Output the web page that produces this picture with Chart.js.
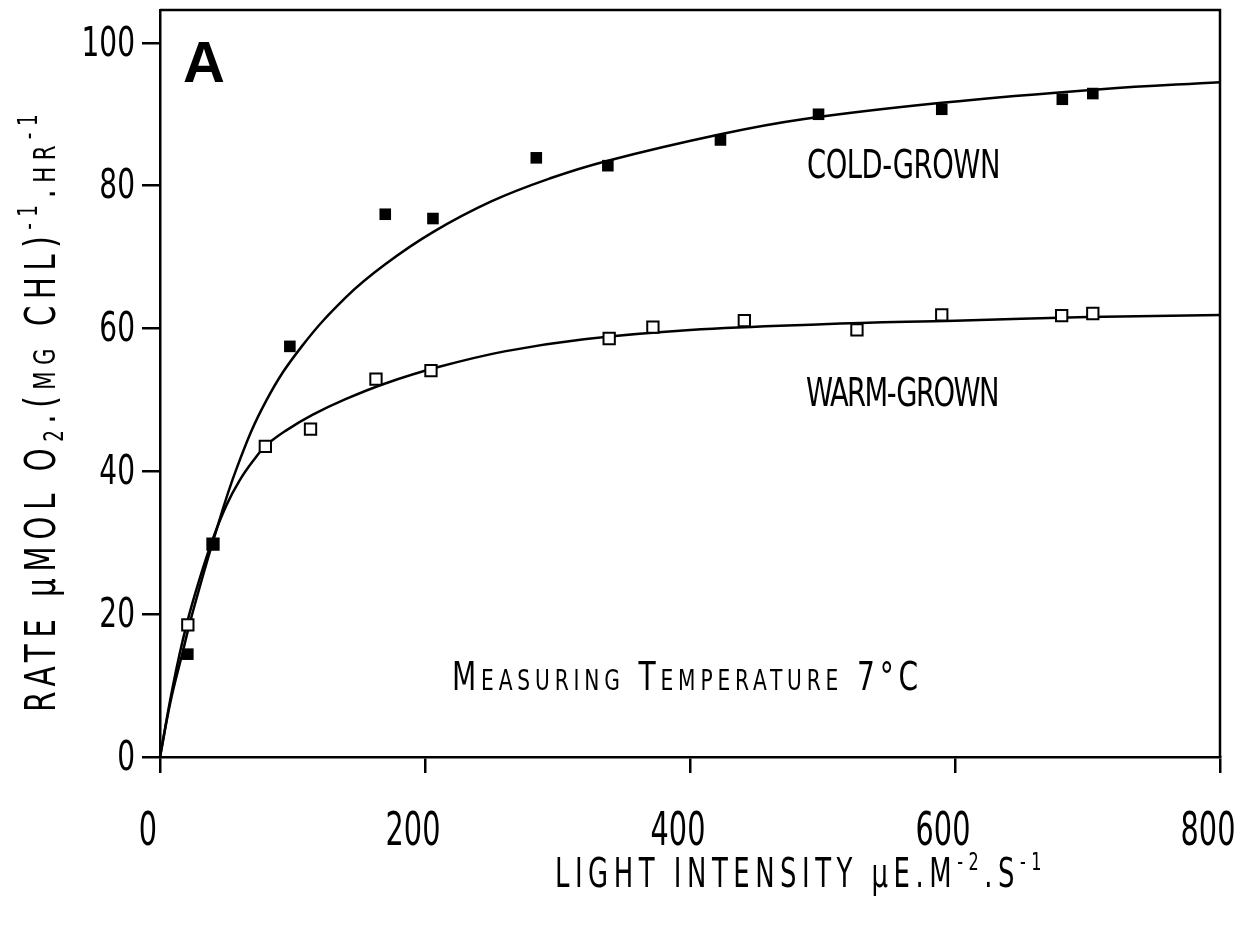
<!DOCTYPE html>
<html><head><meta charset="utf-8">
<script src="https://cdn.jsdelivr.net/npm/chart.js@4.4.1/dist/chart.umd.min.js"></script>
<style>html,body{margin:0;padding:0;background:#fff}canvas{display:block}</style>
</head><body><canvas id="c" width="1252" height="930"></canvas>
<script>
// ---- data ----
const xTicks = [0, 200, 400, 600, 800];
const yTicks = [0, 20, 40, 60, 80, 100];

const coldLight = [21, 40, 98, 170, 206, 284, 338, 423, 497, 590, 681, 704];
const coldRate  = [14.4, 29.8, 57.5, 76.0, 75.4, 83.9, 82.8, 86.4, 90.0, 90.7, 92.1, 92.9];

const warmLight = [21, 40, 79.5, 113.6, 163, 204.5, 339, 372, 441, 526, 590, 680.5, 704];
const warmRate  = [18.5, 29.8, 43.5, 45.9, 52.9, 54.1, 58.6, 60.2, 61.1, 59.8, 61.9, 61.8, 62.1];

// fitted curves
const coldCurveX = [0, 8, 17, 24, 40, 58.4, 80.5, 107, 141, 170, 206, 250, 294, 338, 423, 485, 590, 710, 800];
const coldCurveY = [0, 7.8, 14.6, 19.8, 30.2, 40.7, 50.0, 57.5, 64.5, 69.0, 73.5, 77.8, 81.0, 83.5, 87.2, 89.3, 91.6, 93.5, 94.5];
const warmCurveX = [0, 10, 20, 30, 40, 50, 60, 70, 80, 95, 115, 140, 170, 210, 260, 320, 400, 500, 600, 700, 800];
const warmCurveY = [0, 10.2, 18.5, 25.0, 30.6, 35.2, 38.7, 41.4, 43.6, 45.7, 47.9, 50.1, 52.3, 54.6, 56.8, 58.5, 59.8, 60.6, 61.1, 61.6, 61.9];

const yMax = 104.6;

const FF = "'DejaVu Sans Condensed','DejaVu Sans',sans-serif";
const pts = (xs, ys) => xs.map((x, i) => ({x: x, y: ys[i]}));

// draws text compressed horizontally by sx, with letter spacing so it spans `target` px
function drawRich(ctx, segs, x, y, size, target, rot, sx) {
  ctx.save();
  const hasLS = ('letterSpacing' in ctx);
  if (hasLS) ctx.letterSpacing = '0px';
  const parts = segs.map(s => {
    const k = (s.sup || s.sub) ? 0.62 : (s.small ? 0.72 : 1);
    const fs = size * k;
    ctx.font = fs + 'px ' + FF;
    return {s: s, fs: fs, w: ctx.measureText(s.t).width, n: [...s.t].length};
  });
  const natural = parts.reduce((a, p) => a + p.w, 0);
  const nch = parts.reduce((a, p) => a + p.n, 0);
  let scale = sx, sp = 0;
  if (hasLS) { sp = (target / sx - natural) / nch; }
  else { scale = target / natural; }
  ctx.translate(x, y);
  if (rot) ctx.rotate(-Math.PI / 2);
  ctx.scale(scale, 1);
  ctx.textBaseline = 'alphabetic';
  ctx.textAlign = 'left';
  ctx.fillStyle = '#000';
  if (hasLS) ctx.letterSpacing = sp + 'px';
  let cx = 0;
  for (const p of parts) {
    ctx.font = p.fs + 'px ' + FF;
    const dy = p.s.sup ? -size * 0.42 : (p.s.sub ? size * 0.18 : 0);
    ctx.fillText(p.s.t, cx, dy);
    cx += p.w + sp * p.n;
  }
  ctx.restore();
}

function drawLabel(ctx, text, x, y, size, sx, align) {
  ctx.save();
  ctx.font = size + 'px ' + FF;
  const w = ctx.measureText(text).width * sx;
  let left = align === 'right' ? x - w : x - w / 2;
  ctx.translate(left, y);
  ctx.scale(sx, 1);
  ctx.textBaseline = 'middle';
  ctx.textAlign = 'left';
  ctx.fillStyle = '#000';
  ctx.fillText(text, 0, 0);
  ctx.restore();
}

const decor = {
  id: 'decor',
  afterDraw(chart) {
    const ctx = chart.ctx;
    const a = chart.chartArea;
    const xs = chart.scales.x, ys = chart.scales.y;
    ctx.save();
    ctx.strokeStyle = '#000';
    ctx.lineWidth = 2.5;
    ctx.beginPath();
    ctx.moveTo(a.left, a.top);
    ctx.lineTo(a.right, a.top);
    ctx.lineTo(a.right, a.bottom);
    ctx.stroke();
    ctx.fillStyle = '#000';
    ctx.font = "bold 58px 'Liberation Sans',Arial,sans-serif";
    ctx.textBaseline = 'alphabetic';
    ctx.fillText('A', 183, 82);
    ctx.restore();

    // tick labels placed on the chart's own scales
    xTicks.forEach(v => drawLabel(ctx, String(v), xs.getPixelForValue(v) - 12, a.bottom + 76, 47, 0.68, 'center'));
    yTicks.forEach(v => drawLabel(ctx, String(v), a.left - 25, ys.getPixelForValue(v) + 2, 41, 0.76, 'right'));

    drawRich(ctx, [{t: 'COLD-GROWN'}], 807, 178, 39, 193, false, 0.78);
    drawRich(ctx, [{t: 'WARM-GROWN'}], 806, 406, 39, 192, false, 0.78);
    drawRich(ctx, [{t: 'M'}, {t: 'EASURING', small: true}, {t: ' T'}, {t: 'EMPERATURE', small: true}, {t: ' 7°C'}], 452, 690, 39, 471, false, 0.8);
    drawRich(ctx, [{t: 'LIGHT INTENSITY µE.M'}, {t: '-2', sup: true}, {t: '.S'}, {t: '-1', sup: true}], 555, 887, 40, 492, false, 0.72);
    drawRich(ctx, [{t: 'RATE µMOL O'}, {t: '2', sub: true}, {t: '.('}, {t: 'MG', small: true}, {t: ' CHL)'}, {t: '-1', sup: true}, {t: '.'}, {t: 'HR', small: true}, {t: '-1', sup: true}], 55, 712, 42, 604, true, 0.78);
  }
};

new Chart(document.getElementById('c'), {
  type: 'scatter',
  data: {
    datasets: [
      {label: 'Cold-grown', data: pts(coldLight, coldRate), pointStyle: 'rect', pointRadius: 8.2, pointHoverRadius: 8.2,
       backgroundColor: '#000', borderColor: '#000', borderWidth: 0, order: 0},
      {label: 'Warm-grown', data: pts(warmLight, warmRate), pointStyle: 'rect', pointRadius: 8, pointHoverRadius: 8,
       backgroundColor: '#fff', borderColor: '#000', borderWidth: 2, order: 1},
      {label: 'Cold fit', data: pts(coldCurveX, coldCurveY), showLine: true, pointRadius: 0, borderColor: '#000',
       borderWidth: 2.5, tension: 0.4, order: 2},
      {label: 'Warm fit', data: pts(warmCurveX, warmCurveY), showLine: true, pointRadius: 0, borderColor: '#000',
       borderWidth: 2.5, tension: 0.4, order: 3}
    ]
  },
  options: {
    responsive: false,
    animation: false,
    devicePixelRatio: 1,
    layout: {padding: {top: 10, right: 32, left: 0, bottom: 0}},
    plugins: {legend: {display: false}, tooltip: {enabled: false}},
    scales: {
      x: {
        type: 'linear', min: 0, max: 800,
        afterBuildTicks: s => { s.ticks = xTicks.map(v => ({value: v})); },
        afterFit: s => { s.height = 173; s.paddingLeft = 0; s.paddingRight = 0; },
        grid: {drawOnChartArea: false, drawTicks: true, tickLength: 16, color: '#000', lineWidth: 2.5},
        border: {display: true, color: '#000', width: 2.5},
        ticks: {display: false}
      },
      y: {
        type: 'linear', min: 0, max: yMax,
        afterBuildTicks: s => { s.ticks = yTicks.map(v => ({value: v})); },
        afterFit: s => { s.width = 160; s.paddingTop = 0; s.paddingBottom = 0; },
        grid: {drawOnChartArea: false, drawTicks: true, tickLength: 18, color: '#000', lineWidth: 2.5},
        border: {display: true, color: '#000', width: 2.5},
        ticks: {display: false}
      }
    }
  },
  plugins: [decor]
});
</script>
</body></html>
